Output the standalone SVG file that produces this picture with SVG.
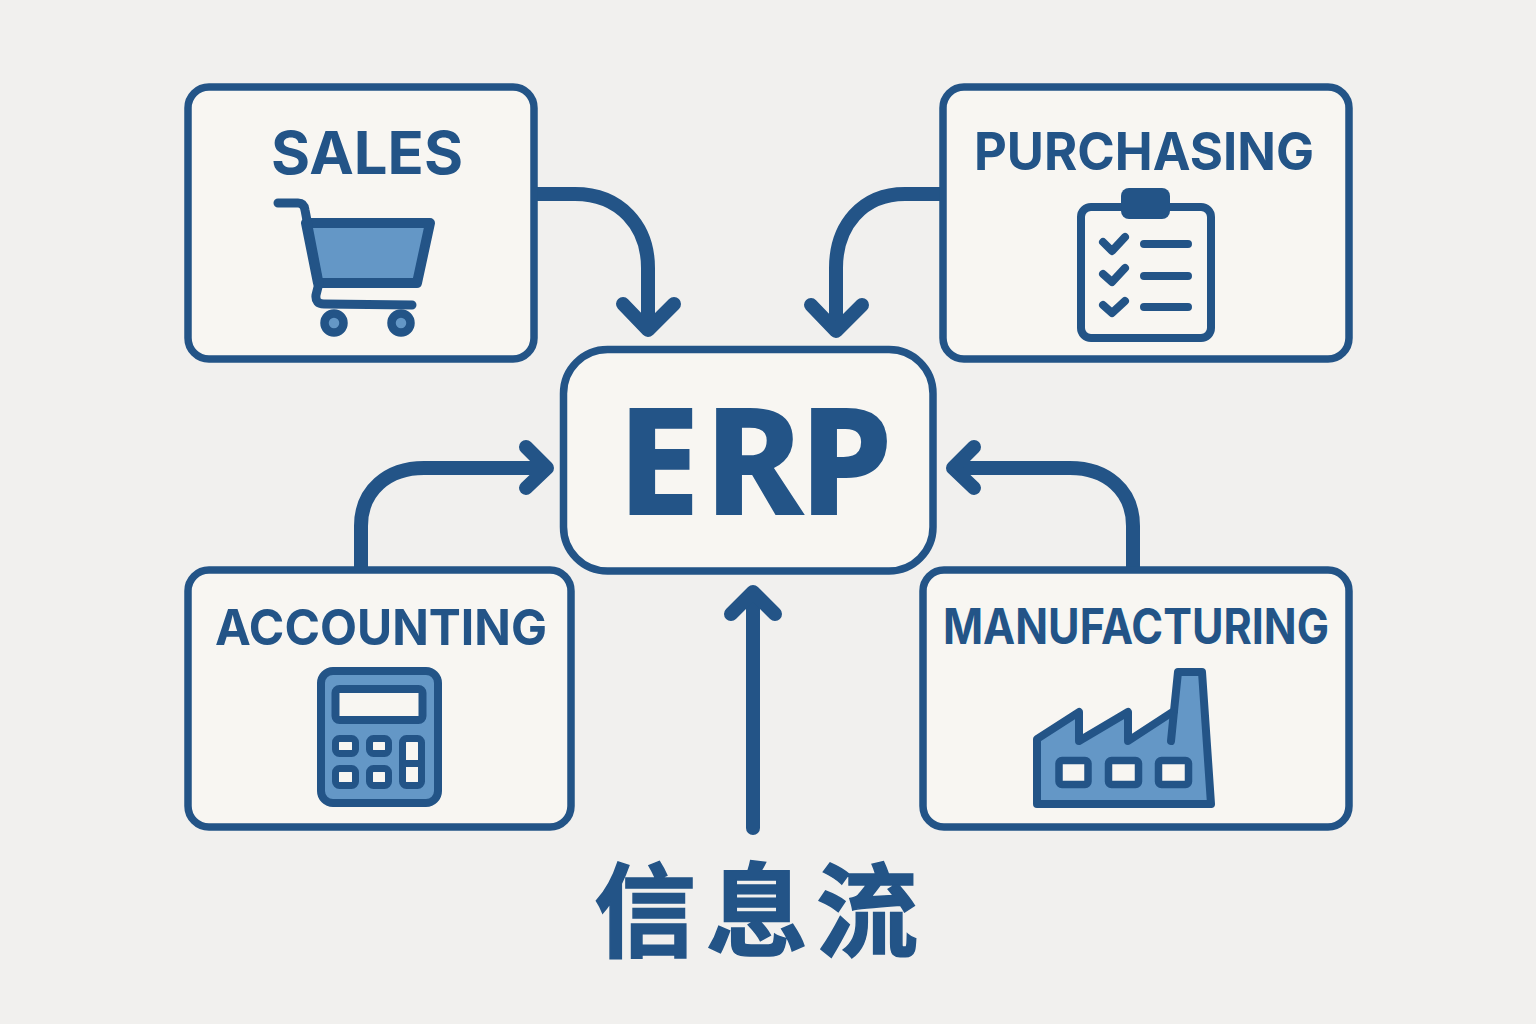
<svg xmlns="http://www.w3.org/2000/svg" width="1536" height="1024" viewBox="0 0 1536 1024">
<style>
.box{fill:#f8f6f2;stroke:#235487;stroke-width:7.5}
.ln{fill:none;stroke:#235487;stroke-linecap:round;stroke-linejoin:round}
.ic{fill:#6497c6;stroke:#235487;stroke-linejoin:round}
.win{fill:#f8f6f2;stroke:#235487;stroke-linejoin:round}
.con{fill:none;stroke:#235487;stroke-width:14;stroke-linecap:round;stroke-linejoin:round}
.t{fill:#235487;font-family:Inter,"Liberation Sans",sans-serif;font-weight:700;text-anchor:start}
</style>
<rect width="1536" height="1024" fill="#f1f0ee"/>
<g id="connectors">
<path class="con" stroke-linecap="butt" d="M537 194H575C620 194 648 226 648 268V326"/>
<path class="con" d="M623 304L648 330L674 304"/>
<path class="con" stroke-linecap="butt" d="M940 194H905C862 194 836 226 836 268V328"/>
<path class="con" d="M811 305L836 331L862 305"/>
<path class="con" stroke-linecap="butt" d="M361 567V526C361 490 388 468 424 468H544"/>
<path class="con" d="M526 447L547 468L526 488"/>
<path class="con" stroke-linecap="butt" d="M1133 567V526C1133 490 1106 468 1070 468H956"/>
<path class="con" d="M974 447L953 468L974 488"/>
<path class="con" d="M753 828V600"/>
<path class="con" d="M731 614L753 592L775 614"/>
</g>
<g id="sales">
<rect class="box" x="188" y="87" width="346" height="272" rx="21"/>
<text class="t" x="271" y="174" font-size="59" textLength="192" lengthAdjust="spacingAndGlyphs">SALES</text>
<path class="ic" stroke-width="10" d="M306 223H430L417 283H318Z"/>
<path class="ln" stroke-width="9" d="M278 203H298Q304 203 305 210L319 283L316 295Q315 304 324 304L412 305"/>
<circle cx="334" cy="323" r="9.5" fill="#6497c6" stroke="#235487" stroke-width="8.5"/>
<circle cx="401" cy="323" r="9.5" fill="#6497c6" stroke="#235487" stroke-width="8.5"/>
</g>
<g id="purchasing">
<rect class="box" x="943" y="87" width="406" height="272" rx="21"/>
<text class="t" x="974" y="170" font-size="52" textLength="340" lengthAdjust="spacingAndGlyphs">PURCHASING</text>
<rect x="1081" y="207" width="130" height="131" rx="10" fill="#f8f6f2" stroke="#235487" stroke-width="8"/>
<rect x="1121" y="188" width="49" height="31" rx="8" fill="#235487"/>
<path class="ln" stroke-width="8" d="M1103 242L1112 251L1125 237M1103 274L1112 282L1125 268M1103 305L1112 313L1125 301"/>
<path class="ln" stroke-width="8" d="M1144 244H1188M1144 276H1188M1144 307H1188"/>
</g>
<g id="erp">
<rect class="box" x="563.5" y="349.5" width="369.5" height="221.5" rx="44"/>
<text y="515" font-size="150" font-weight="800" fill="#235487" font-family="'Noto Sans',sans-serif" x="617 704 799">ERP</text>
</g>
<g id="accounting">
<rect class="box" x="188" y="570" width="383" height="257" rx="21"/>
<text class="t" x="215" y="645" font-size="50" textLength="332" lengthAdjust="spacingAndGlyphs">ACCOUNTING</text>
<rect class="ic" x="321" y="671" width="117" height="132" rx="12" stroke-width="8"/>
<rect class="win" x="335.5" y="689" width="87" height="31" rx="4" stroke-width="8"/>
<g class="win" stroke-width="7">
<rect x="335.5" y="738.5" width="20" height="15" rx="4"/>
<rect x="369.5" y="738.5" width="19" height="15" rx="4"/>
<rect x="335.5" y="768.5" width="20" height="17" rx="4"/>
<rect x="369.5" y="768.5" width="19" height="17" rx="4"/>
<rect x="402.5" y="738.5" width="19" height="47" rx="4"/>
<path d="M402.5 763.5H421.5"/>
</g>
</g>
<g id="manufacturing">
<rect class="box" x="923" y="570" width="426" height="257" rx="21"/>
<text class="t" x="943" y="644" font-size="49" textLength="386" lengthAdjust="spacingAndGlyphs">MANUFACTURING</text>
<path class="ic" stroke-width="8" d="M1037 739L1079 712V741L1128 712V741L1174 711L1178 672H1202L1211 804H1037Z"/>
<path class="ln" stroke-width="8" d="M1174 711L1171 741"/>
<rect class="win" x="1059" y="760.5" width="29" height="24" rx="3" stroke-width="7.5"/>
<rect class="win" x="1108.5" y="760.5" width="30" height="24" rx="3" stroke-width="7.5"/>
<rect class="win" x="1158.5" y="760.5" width="30" height="24" rx="3" stroke-width="7.5"/>
</g>
<g id="flow-label">
<text y="949" font-size="102" font-weight="700" fill="#235487" stroke="#235487" stroke-width="1.5" font-family="'Noto Sans CJK SC',sans-serif" x="594 706 816">信息流</text>
</g>
</svg>
